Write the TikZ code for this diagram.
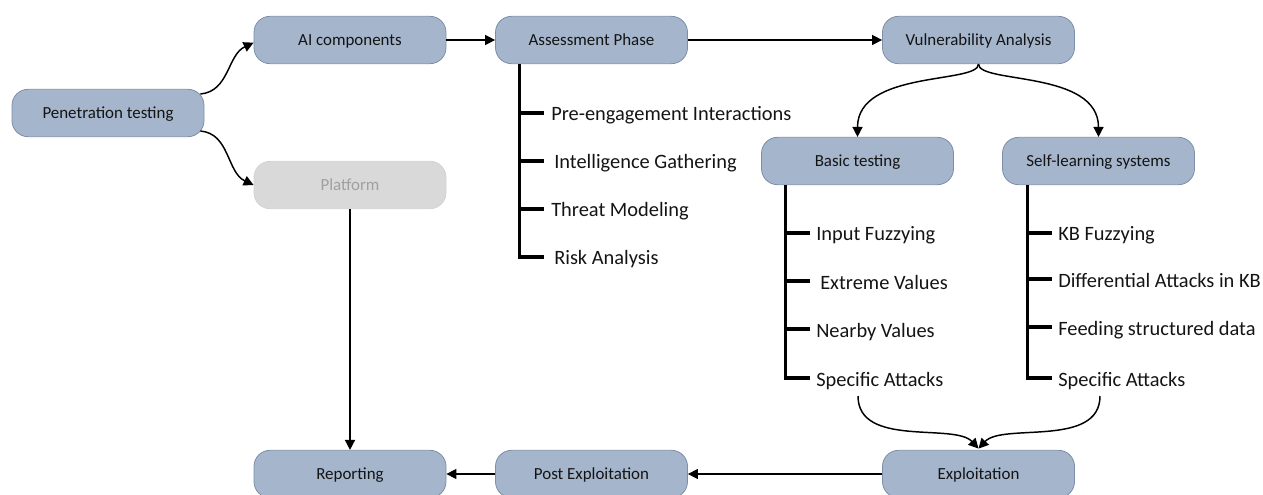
\documentclass[tikz,border=0pt]{standalone}
\usepackage{fontspec}
\setmainfont{Carlito}
\usetikzlibrary{arrows.meta,calc}
\definecolor{boxfill}{RGB}{165,181,204}
\definecolor{boxline}{RGB}{125,142,170}
\definecolor{platfill}{RGB}{217,217,217}
\definecolor{platline}{RGB}{210,210,210}
\definecolor{plattext}{RGB}{160,160,160}
\definecolor{ink}{RGB}{20,20,20}
\begin{document}
\begin{tikzpicture}[x=0.75pt,y=0.75pt,
  phase/.style={draw=boxline, line width=0.6pt, fill=boxfill, rounded corners=12pt,
    minimum width=144pt, minimum height=35.5pt, inner sep=0pt, text=ink,
    text height=8pt, text depth=0pt,
    font=\fontsize{12.7}{15}\selectfont},
  greyphase/.style={phase, draw=platline, fill=platfill, text=plattext},
  item/.style={anchor=base west, inner sep=0pt, text=ink, font=\fontsize{15.3}{18}\selectfont},
  conn/.style={draw=black, line width=1.1pt, -{Triangle[length=7.5pt,width=7.5pt]}},
  tree/.style={draw=black, line width=2.3pt, line join=miter, line cap=butt}
]
\useasboundingbox (0,0) rectangle (1263,-495);
\clip (0,0) rectangle (1263,-495);

% phase boxes
\node[phase] (pen)    at (108,-113)  {Penetration testing};
\node[phase] (ai)     at (350,-40)   {AI components};
\node[greyphase] (plat) at (350,-185) {Platform};
\node[phase] (assess) at (591.5,-40) {Assessment Phase};
\node[phase] (vuln)   at (978.5,-40) {Vulnerability Analysis};
\node[phase] (basic)  at (857.5,-161) {Basic testing};
\node[phase] (self)   at (1098.5,-161) {Self-learning systems};
\node[phase] (expl)   at (978.5,-474) {Exploitation};
\node[phase] (post)   at (591.5,-474) {Post Exploitation};
\node[phase] (rep)    at (350,-474)  {Reporting};

% assessment activities
\node[item] (pre)    at (551,-121) {Pre-engagement Interactions};
\node[item] (intel)  at (554,-169) {Intelligence Gathering};
\node[item] (threat) at (551,-217) {Threat Modeling};
\node[item] (risk)   at (554,-265) {Risk Analysis};

% basic testing activities
\node[item] (fuzz)   at (816,-241) {Input Fuzzying};
\node[item] (ext)    at (820,-289) {Extreme Values};
\node[item] (near)   at (816,-337) {Nearby Values};
\node[item] (spa)    at (816,-386) {Specific Attacks};

% self-learning activities
\node[item] (kbf)    at (1058,-241) {KB Fuzzying};
\node[item] (diff)   at (1058,-287) {Differential Attacks in KB};
\node[item] (feed)   at (1058,-335) {Feeding structured data};
\node[item] (spb)    at (1058,-386) {Specific Attacks};

% activity trees: trunk from the box, one tick per activity
\coordinate (ta) at ($(assess.south west)+(24,0)$);
\coordinate (tb) at ($(basic.south west)+(24,0)$);
\coordinate (tc) at ($(self.south west)+(25,0)$);
\draw[tree] (ta) -- (ta |- 0,-257) -- ++(25,0);
\foreach \y in {113,161,209} \draw[tree] (ta |- 0,-\y) -- ++(25,0);
\draw[tree] (tb) -- (tb |- 0,-378) -- ++(25,0);
\foreach \y in {233,281,329} \draw[tree] (tb |- 0,-\y) -- ++(25,0);
\draw[tree] (tc) -- (tc |- 0,-378) -- ++(25,0);
\foreach \y in {233,279,327} \draw[tree] (tc |- 0,-\y) -- ++(25,0);

% flow
\draw[conn] ([shift={(-4,19)}]pen.east) to[out=5,in=205] ([yshift=-2pt]ai.west);
\draw[conn] ([shift={(-4,-18)}]pen.east) to[out=-5,in=155] (plat.west);
\draw[conn] (ai) -- (assess);
\draw[conn] (assess) -- (vuln);
\draw[conn] (vuln.south) .. controls +(0,-20) and +(0,67) .. (basic.north);
\draw[conn] (vuln.south) .. controls +(0,-20) and +(0,67) .. (self.north);
\coordinate (sa) at ($(spa.base west)+(42,-10)$);
\coordinate (sb) at ($(spb.base west)+(42,-10)$);
\draw[conn] (sa) .. controls +(0,-52) and +(-24,26) .. ([yshift=1pt]expl.north);
\draw[conn] (sb) .. controls +(0,-52) and +(24,26) .. ([yshift=1pt]expl.north);
\draw[conn] (expl) -- (post);
\draw[conn] (post) -- (rep);
\draw[conn] (plat) -- (rep);
\end{tikzpicture}
\end{document}
